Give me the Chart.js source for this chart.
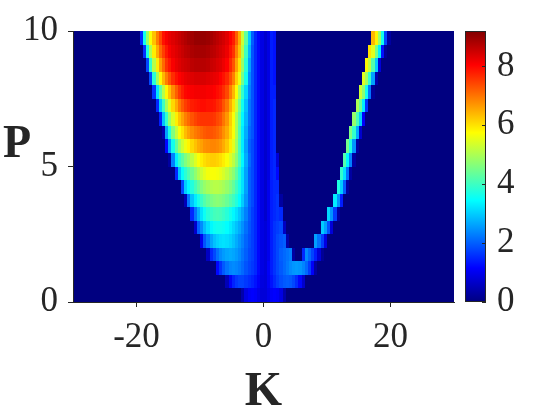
<!DOCTYPE html>
<html><head><meta charset="utf-8">
<script src="https://cdn.jsdelivr.net/npm/chart.js@4"></script>
<style>html,body{margin:0;padding:0;background:#fff}</style>
</head><body>
<canvas id="c" width="560" height="420"></canvas>
<script>
// column edges in K, row edges in P (top to bottom)
const kEdges = [-30,-20,-19.5,-19,-18.5,-18,-17.5,-17,-16.5,-16,-15.5,-15,-14.5,-14,-13.5,-13,-12.5,-12,-11.5,-11,-10.5,-10,-9.5,-9,-8.5,-8,-7.5,-7,-6.5,-6,-5.5,-5,-4.5,-4,-3.5,-3,-2.5,-2,-1.5,-1,-0.5,0,0.5,1,1.5,2,2.5,3,3.5,4,4.5,5,5.5,6,6.5,7,7.5,8,8.5,9,9.5,10,10.5,11,11.5,12,12.5,13,13.5,14,14.5,15,15.5,16,16.5,17,17.5,18,18.5,19,19.5,20,30];
const pEdges = [10,9.5,9,8.5,8,7.5,7,6.5,6,5.5,5,4.5,4,3.5,3,2.5,2,1.5,1,0.5,0];
const Z = [
[0, 0,1.5,3.6,4.8,5.7,6.3,6.9,7.4,7.9,8.1,8.25,8.35,8.45,8.55,8.65,8.75,8.85,8.9,9.0,9.0,9.0,9.0,8.95,8.85,8.75,8.65,8.55,8.45,8.3,8.05,7.8,7.2,6.5,5.3,4.3,3.0,2.0,1.5,1.2,0.9,
 0.7,0.9,1.4,1.3, 0,0,0,0,0,0,0,0,0,0,0,0,0,0,0,0,0,0,0,0,0,0,0,0,0,0,0,0,0,0, 6.4,5.85,4.8,3.6,1.8,0.3, 0],
[0, 0,0,1.6,3.7,5.0,5.9,6.5,7.1,7.5,7.85,8.1,8.25,8.35,8.45,8.55,8.65,8.7,8.8,8.85,8.85,8.85,8.85,8.8,8.7,8.65,8.55,8.45,8.35,8.2,7.9,7.6,6.9,6.3,5.1,4.0,2.8,1.9,1.5,1.2,0.9,
 0.7,0.9,1.4,1.3, 0,0,0,0,0,0,0,0,0,0,0,0,0,0,0,0,0,0,0,0,0,0,0,0,0,0,0,0,0, 6.0,5.5,4.5,3.3,1.3,0.2,0, 0],
[0, 0,0,0,1.8,3.9,5.1,5.9,6.6,7.1,7.6,7.85,8.1,8.25,8.35,8.45,8.5,8.55,8.65,8.7,8.7,8.7,8.7,8.65,8.55,8.5,8.4,8.35,8.2,8.05,7.7,7.3,6.6,6.0,4.8,3.8,2.6,1.9,1.5,1.2,0.9,
 0.7,0.9,1.4,1.3, 0,0,0,0,0,0,0,0,0,0,0,0,0,0,0,0,0,0,0,0,0,0,0,0,0,0,0,0, 5.8,5.2,4.2,3.0,0.8,0,0,0, 0],
[0, 0,0,0,0,1.8,3.8,4.9,5.8,6.4,6.9,7.3,7.65,7.9,8.05,8.15,8.25,8.3,8.35,8.4,8.4,8.4,8.4,8.35,8.3,8.25,8.2,8.05,7.9,7.7,7.35,6.9,6.2,5.6,4.5,3.6,2.4,1.9,1.5,1.2,0.9,
 0.7,0.9,1.4,1.3, 0,0,0,0,0,0,0,0,0,0,0,0,0,0,0,0,0,0,0,0,0,0,0,0,0,0,0, 5.5,4.9,3.9,2.6,0.4, 0,0,0,0, 0],
[0, 0,0,0,0,0,1.6,3.2,4.3,5.1,5.8,6.3,6.8,7.2,7.55,7.8,8.0,8.05,8.1,8.15,8.15,8.15,8.15,8.1,8.1,8.05,7.95,7.85,7.65,7.4,6.9,6.4,5.7,4.9,3.9,3.1,2.3,1.9,1.5,1.2,0.9,
 0.7,0.9,1.4,1.4, 0,0,0,0,0,0,0,0,0,0,0,0,0,0,0,0,0,0,0,0,0,0,0,0,0,0, 5.3,4.7,3.6,2.2,0.2, 0,0,0,0,0, 0],
[0, 0,0,0,0,0,0,1.5,3.0,4.0,4.9,5.5,6.1,6.5,6.95,7.25,7.5,7.65,7.8,7.85,7.9,7.95,7.95,7.9,7.9,7.85,7.7,7.6,7.3,7.0,6.5,6.0,5.3,4.5,3.6,2.9,2.2,1.9,1.5,1.2,0.9,
 0.7,0.9,1.4,1.5, 0,0,0,0,0,0,0,0,0,0,0,0,0,0,0,0,0,0,0,0,0,0,0,0,0, 5.0,4.4,3.3,1.6, 0,0,0,0,0,0,0, 0],
[0, 0,0,0,0,0,0,0,1.4,2.9,3.9,4.8,5.4,5.9,6.3,6.6,6.9,7.1,7.3,7.45,7.55,7.6,7.6,7.6,7.6,7.55,7.4,7.3,7.0,6.7,6.2,5.7,5.0,4.3,3.4,2.8,2.2,1.9,1.5,1.2,0.9,
 0.7,0.9,1.4,1.5, 0,0,0,0,0,0,0,0,0,0,0,0,0,0,0,0,0,0,0,0,0,0,0,0, 4.8,4.1,3.0,1.1, 0,0,0,0,0,0,0,0, 0],
[0, 0,0,0,0,0,0,0,0,0.4,2.6,3.7,4.6,5.2,5.7,6.0,6.35,6.6,6.8,6.95,7.05,7.15,7.25,7.3,7.3,7.25,7.15,7.0,6.75,6.5,6.1,5.7,5.0,4.2,3.3,2.7,2.1,1.9,1.5,1.2,0.9,
 0.7,0.9,1.4,1.5, 0,0,0,0,0,0,0,0,0,0,0,0,0,0,0,0,0,0,0,0,0,0,0, 4.6,3.9,2.7,0.7, 0,0,0,0,0,0,0,0,0, 0],
[0, 0,0,0,0,0,0,0,0,0,1.2,2.6,3.6,4.3,4.9,5.3,5.6,5.85,6.1,6.3,6.5,6.6,6.75,6.8,6.85,6.85,6.8,6.7,6.5,6.25,5.9,5.5,4.9,4.1,3.3,2.6,2.0,1.8,1.5,1.2,0.9,
 0.7,0.9,1.4,1.5, 0,0,0,0,0,0,0,0,0,0,0,0,0,0,0,0,0,0,0,0,0,0, 4.5,3.7,2.5,0.3, 0,0,0,0,0,0,0,0,0,0, 0],
[0, 0,0,0,0,0,0,0,0,0,0,0.3,2.3,3.3,3.9,4.25,4.6,4.85,5.15,5.45,5.7,5.9,6.05,6.15,6.2,6.2,6.15,6.05,5.9,5.7,5.45,5.15,4.7,4.1,3.4,2.7,2.1,1.8,1.5,1.2,0.9,
 0.7,0.9,1.4,1.5,0.8, 0,0,0,0,0,0,0,0,0,0,0,0,0,0,0,0,0,0,0,0, 4.2,3.4,2.3,0.3, 0,0,0,0,0,0,0,0,0,0,0, 0],
[0, 0,0,0,0,0,0,0,0,0,0,0,0,1.5,2.9,3.5,3.85,4.15,4.45,4.75,5.05,5.3,5.5,5.65,5.7,5.7,5.65,5.55,5.4,5.2,4.95,4.7,4.3,3.8,3.2,2.6,2.0,1.8,1.5,1.2,0.9,
 0.7,0.9,1.4,1.5,1.2, 0,0,0,0,0,0,0,0,0,0,0,0,0,0,0,0,0,0,0, 3.9,3.2,2.2,0.3, 0,0,0,0,0,0,0,0,0,0,0,0, 0],
[0, 0,0,0,0,0,0,0,0,0,0,0,0,0,0,1.8,3.0,3.4,3.75,4.05,4.35,4.6,4.8,4.95,5.05,5.1,5.1,5.05,4.95,4.8,4.6,4.35,4.0,3.65,3.2,2.6,2.0,1.8,1.5,1.2,0.9,
 0.7,1.0,1.4,1.5,1.5, 0,0,0,0,0,0,0,0,0,0,0,0,0,0,0,0,0,0, 3.7,3.0,2.0,0.3, 0,0,0,0,0,0,0,0,0,0,0,0,0, 0],
[0, 0,0,0,0,0,0,0,0,0,0,0,0,0,0,0,0.5,2.2,2.9,3.3,3.65,3.95,4.2,4.4,4.55,4.65,4.7,4.65,4.55,4.4,4.2,4.0,3.75,3.45,3.0,2.5,2.0,1.8,1.5,1.2,0.9,
 0.7,1.0,1.4,1.5,1.6,0.3, 0,0,0,0,0,0,0,0,0,0,0,0,0,0,0,0, 3.3,2.5,1.4, 0,0,0,0,0,0,0,0,0,0,0,0,0,0,0, 0],
[0, 0,0,0,0,0,0,0,0,0,0,0,0,0,0,0,0,0,1.5,2.2,2.75,3.2,3.55,3.8,3.95,4.05,4.1,4.05,3.95,3.8,3.6,3.4,3.2,2.95,2.65,2.3,1.95,1.7,1.5,1.2,0.9,
 0.7,1.0,1.4,1.5,1.6,1.5, 0,0,0,0,0,0,0,0,0,0,0,0,0,0, 3.1,2.5,1.7,0.3, 0,0,0,0,0,0,0,0,0,0,0,0,0,0,0,0, 0],
[0, 0,0,0,0,0,0,0,0,0,0,0,0,0,0,0,0,0,0,0.7,2.0,2.4,2.85,3.15,3.4,3.55,3.6,3.6,3.55,3.45,3.3,3.1,2.9,2.7,2.45,2.15,1.9,1.7,1.5,1.2,0.9,
 0.8,1.0,1.4,1.6,1.7,1.8,0.6, 0,0,0,0,0,0,0,0,0,0,0, 3.0,2.6,1.9,0.8, 0,0,0,0,0,0,0,0,0,0,0,0,0,0,0,0,0,0, 0],
[0, 0,0,0,0,0,0,0,0,0,0,0,0,0,0,0,0,0,0,0,0,1.0,1.9,2.3,2.65,2.9,3.05,3.15,3.2,3.15,3.05,2.9,2.7,2.5,2.3,2.05,1.85,1.7,1.5,1.2,0.9,
 0.8,1.0,1.4,1.6,1.8,1.9,2.0,0.4, 0,0,0,0,0,0,0,0, 2.6,2.2,1.7,0.9, 0,0,0,0,0,0,0,0,0,0,0,0,0,0,0,0,0,0,0,0, 0],
[0, 0,0,0,0,0,0,0,0,0,0,0,0,0,0,0,0,0,0,0,0,0,0,0.6,1.5,1.8,2.15,2.4,2.55,2.65,2.7,2.65,2.55,2.4,2.2,2.0,1.8,1.7,1.5,1.2,0.9,
 0.8,1.0,1.4,1.6,1.8,2.0,2.1,2.2,2.3,0.3,0,0,1.5,2.4,2.1,1.75,1.4,0.8,0.2, 0,0,0,0,0,0,0,0,0,0,0,0,0,0,0,0,0,0,0,0,0, 0],
[0, 0,0,0,0,0,0,0,0,0,0,0,0,0,0,0,0,0,0,0,0,0,0,0,0,0,1.2,1.6,1.95,2.2,2.35,2.4,2.35,2.25,2.1,1.9,1.75,1.65,1.5,1.2,0.9,
 0.8,1.1,1.4,1.6,1.8,1.95,2.1,2.25,2.4,2.5,2.55,2.5,2.35,2.1,1.7,1.1,0.3, 0,0,0,0,0,0,0,0,0,0,0,0,0,0,0,0,0,0,0,0,0,0,0, 0],
[0, 0,0,0,0,0,0,0,0,0,0,0,0,0,0,0,0,0,0,0,0,0,0,0,0,0,0,0,0,0.5,1.1,1.45,1.65,1.75,1.75,1.65,1.55,1.45,1.3,1.1,0.85,
 0.8,1.05,1.3,1.5,1.7,1.85,1.95,2.0,1.95,1.8,1.55,1.2,0.7, 0,0,0,0,0,0,0,0,0,0,0,0,0,0,0,0,0,0,0,0,0,0,0,0,0,0,0, 0],
[0, 0,0,0,0,0,0,0,0,0,0, 0,0,0,0,0,0,0,0,0,0, 0,0,0,0,0,0,0,0,0,0, 0,0,0, 0.4,0.9,1.1,1.15,1.1,0.95,0.8,
 0.8,0.95,1.1,1.15,1.1,0.9,0.4, 0,0,0,0,0,0,0,0,0,0, 0,0,0,0,0,0,0,0,0,0, 0,0,0,0,0,0,0,0,0,0, 0,0,0, 0]
];
const xTicks = [-20, 0, 20];
const yTicks = [0, 5, 10];
const cTicks = [0, 2, 4, 6, 8];
const cMin = 0, cMax = 9.2;

Z.forEach((r,i)=>{ if (r.length !== kEdges.length-1) throw new Error('row '+i+' len '+r.length); });

function jet(v){
  const f = Math.max(0, Math.min(1, (v - cMin)/(cMax - cMin)));
  const cl = t => Math.round(255*Math.max(0, Math.min(1, t)));
  return 'rgb(' + cl(1.5-Math.abs(4*f-3)) + ',' + cl(1.5-Math.abs(4*f-2)) + ',' + cl(1.5-Math.abs(4*f-1)) + ')';
}
const AX = '#262626';
const SERIF = '"Liberation Serif", "DejaVu Serif", serif';

const heat = {
  id: 'heat',
  beforeDraw(chart){
    const {ctx, scales:{x, y}} = chart;
    ctx.save();
    for (let r = 0; r < Z.length; r++) {
      const y0 = Math.round(y.getPixelForValue(pEdges[r]));
      const y1 = Math.round(y.getPixelForValue(pEdges[r+1]));
      for (let c = 0; c < Z[r].length; c++) {
        const x0 = Math.round(x.getPixelForValue(kEdges[c]));
        const x1 = Math.round(x.getPixelForValue(kEdges[c+1]));
        ctx.fillStyle = jet(Z[r][c]);
        ctx.fillRect(x0, y0, x1 - x0, y1 - y0);
      }
    }
    ctx.restore();
  },
  afterDraw(chart){
    const {ctx} = chart;
    const cs = chart.scales.c;
    const bx0 = cs.left + 11, bw = 21;
    const top = cs.getPixelForValue(cMax), bot = cs.getPixelForValue(cMin);
    ctx.save();
    const g = ctx.createLinearGradient(0, bot, 0, top);
    [0, 0.125, 0.375, 0.625, 0.875, 1].forEach(f => g.addColorStop(f, jet(cMin + f*(cMax-cMin))));
    ctx.fillStyle = g;
    ctx.fillRect(bx0, top, bw, bot - top);
    ctx.strokeStyle = AX; ctx.lineWidth = 1;
    ctx.strokeRect(bx0 + 0.5, top + 0.5, bw - 1, bot - top - 1);
    ctx.beginPath();
    cTicks.forEach(v => {
      const py = Math.round(cs.getPixelForValue(v)) + 0.5;
      ctx.moveTo(bx0 + bw - 4, py); ctx.lineTo(bx0 + bw, py);
    });
    ctx.stroke();
    // upright y-axis title
    ctx.fillStyle = AX;
    ctx.font = 'bold 46px ' + SERIF;
    ctx.textAlign = 'center'; ctx.textBaseline = 'middle';
    ctx.fillText('P', 17, 145);
    ctx.restore();
  }
};

const tickFont = {family: SERIF, size: 35};
const noPad = s => { s.paddingTop = 0; s.paddingBottom = 0; s.paddingLeft = 0; s.paddingRight = 0; };
new Chart(document.getElementById('c'), {
  type: 'scatter',
  data: { datasets: [{ data: [], pointRadius: 0 }] },
  options: {
    responsive: false, animation: false, devicePixelRatio: 1,
    layout: { padding: { top: 31, left: 0, right: 0, bottom: 0 } },
    plugins: { legend: {display: false}, tooltip: {enabled: false} },
    scales: {
      x: {
        type: 'linear', position: 'bottom', min: -30, max: 30,
        afterBuildTicks: s => { s.ticks = xTicks.map(v => ({value: v})); },
        afterFit: s => { s.height = 118; noPad(s); },
        ticks: { font: tickFont, color: AX, padding: 10, maxRotation: 0, callback: v => String(v) },
        grid: { drawOnChartArea: false, drawTicks: true, tickLength: 5, tickColor: AX, lineWidth: 1 },
        border: { display: true, color: AX, width: 1 },
        title: { display: true, text: 'K', color: AX, font: {family: SERIF, size: 48, weight: 'bold', lineHeight: 1}, padding: {top: 0, bottom: 3} }
      },
      y: {
        type: 'linear', position: 'left', min: 0, max: 10,
        afterBuildTicks: s => { s.ticks = yTicks.map(v => ({value: v})); },
        afterFit: s => { s.width = 73; noPad(s); },
        ticks: { font: tickFont, color: AX, padding: 10, callback: v => String(v) },
        grid: { drawOnChartArea: false, drawTicks: true, tickLength: 5, tickColor: AX, lineWidth: 1 },
        border: { display: true, color: AX, width: 1 }
      },
      c: {
        type: 'linear', position: 'right', min: cMin, max: cMax,
        afterBuildTicks: s => { s.ticks = cTicks.map(v => ({value: v})); },
        afterFit: s => { s.width = 106; noPad(s); },
        ticks: { font: tickFont, color: AX, padding: 43, callback: v => String(v) },
        grid: { display: false, drawOnChartArea: false, drawTicks: false },
        border: { display: false }
      }
    }
  },
  plugins: [heat]
});
</script>
</body></html>
